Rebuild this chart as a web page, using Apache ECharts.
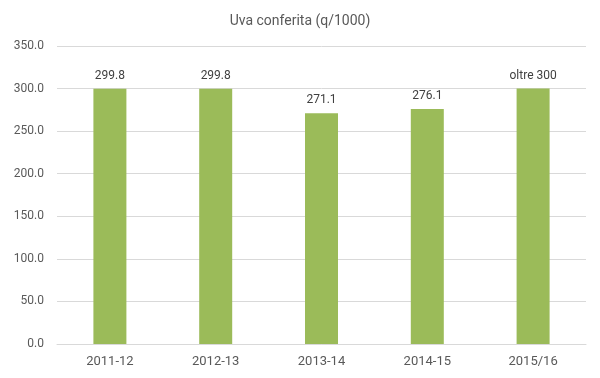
<!DOCTYPE html>
<html><head><meta charset="utf-8">
<script src="https://cdn.jsdelivr.net/npm/echarts@6/dist/echarts.min.js"></script>
<style>html,body{margin:0;padding:0;background:#fff}#c{width:600px;height:378px}</style>
</head><body><div id="c"></div>
<script>
var categories = ['2011-12','2012-13','2013-14','2014-15','2015/16'];
var values = [299.8, 299.8, 271.1, 276.1, 300];
var valueLabels = ['299.8','299.8','271.1','276.1','oltre 300'];
var yTicks = [0,50,100,150,200,250,300,350];

var chart = echarts.init(document.getElementById('c'), null, {renderer:'canvas'});
chart.setOption({
  animation:false,
  title:{text:'Uva conferita (q/1000)', left:'center', top:9,
    textStyle:{fontFamily:'Roboto', fontWeight:'normal', fontSize:14, color:'#595959'}},
  grid:{left:57, right:14, top:46, bottom:34},
  xAxis:{type:'category', data:categories,
    axisLine:{lineStyle:{color:'#d9d9d9'}}, axisTick:{show:false},
    axisLabel:{color:'#595959', fontFamily:'Roboto', fontSize:13, margin:11}},
  yAxis:{type:'value', min:yTicks[0], max:yTicks[yTicks.length-1], interval:50,
    axisLine:{show:false}, axisTick:{show:false},
    splitLine:{lineStyle:{color:'#d9d9d9'}},
    axisLabel:{color:'#595959', fontFamily:'Roboto', fontSize:12, margin:13,
      formatter:function(v){return v.toFixed(1);}}},
  series:[{type:'bar', data:values, barWidth:33,
    itemStyle:{color:'#9BBB59'},
    label:{show:true, position:'top', distance:7, color:'#404040', fontFamily:'Roboto', fontSize:12,
      formatter:function(p){return valueLabels[p.dataIndex];}}}]
});
</script></body></html>
